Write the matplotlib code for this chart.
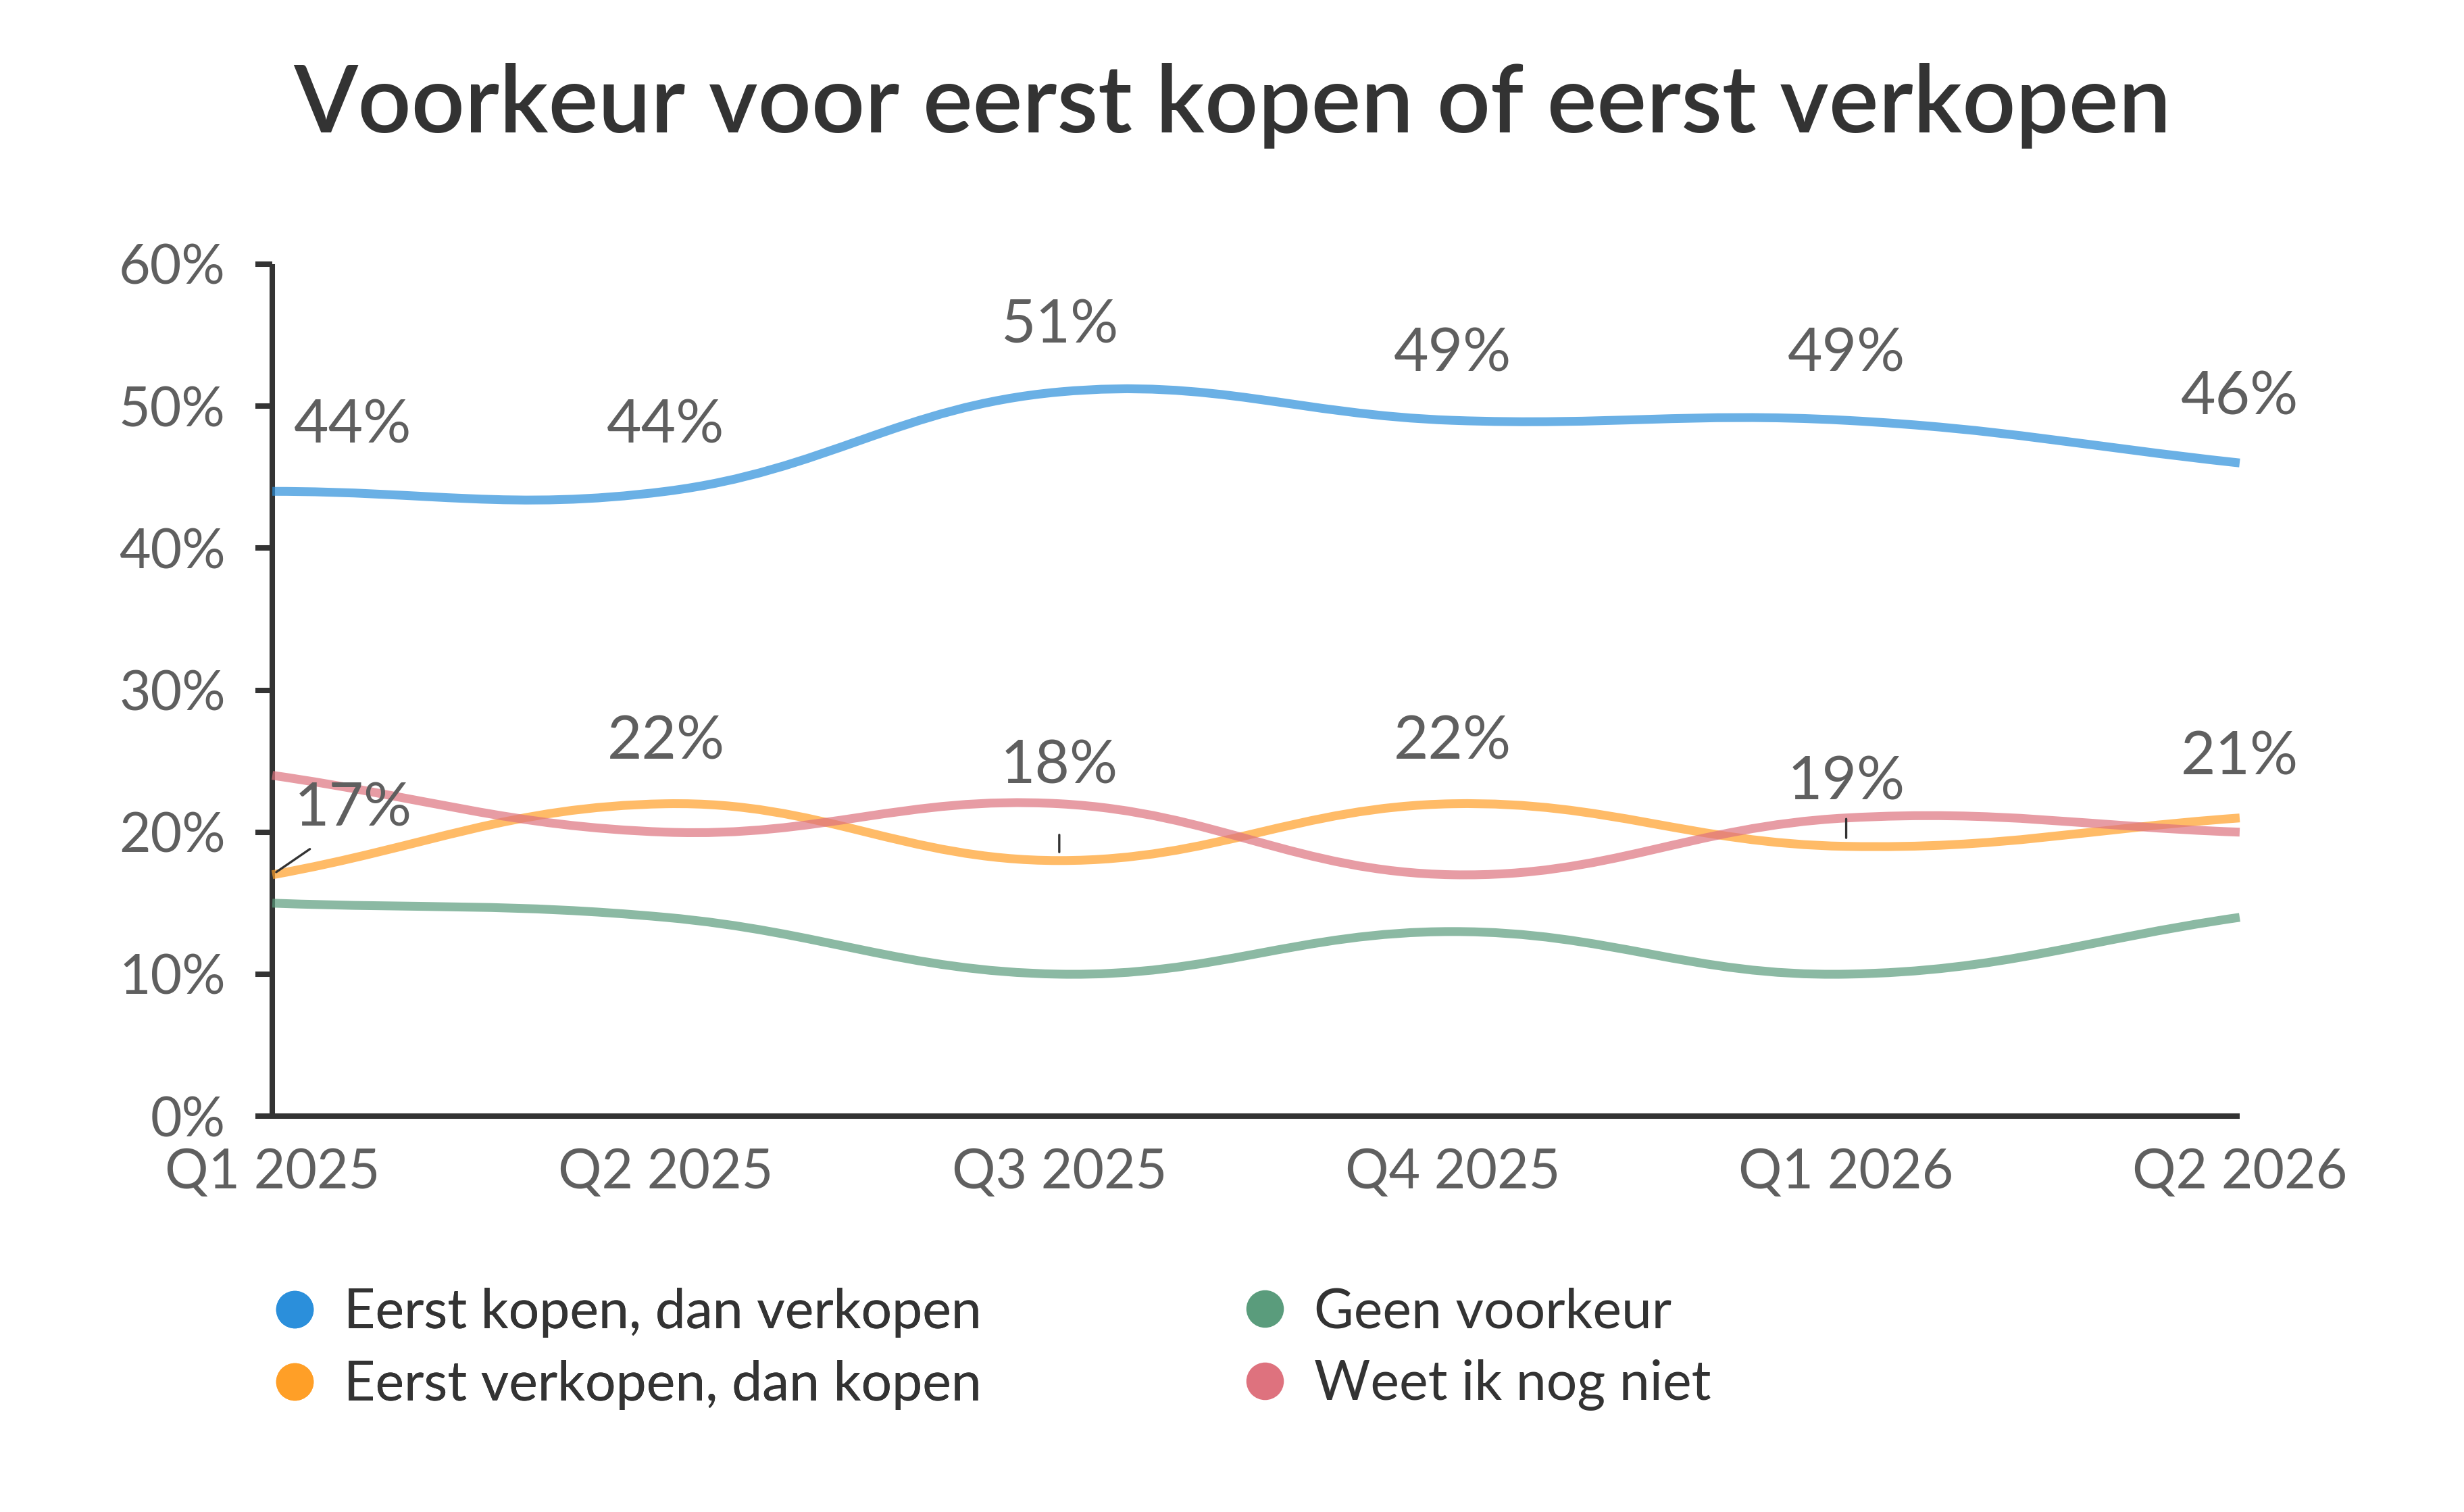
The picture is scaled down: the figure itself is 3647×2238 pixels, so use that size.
import numpy as np
import matplotlib.pyplot as plt
from matplotlib.path import Path
from matplotlib.patches import PathPatch
from matplotlib.lines import Line2D

quarters = ['Q1 2025', 'Q2 2025', 'Q3 2025', 'Q4 2025', 'Q1 2026', 'Q2 2026']
series_names = ['Eerst kopen, dan verkopen', 'Eerst verkopen, dan kopen',
                'Geen voorkeur', 'Weet ik nog niet']
kopen_eerst = [44, 44, 51, 49, 49, 46]
verkopen_eerst = [17, 22, 18, 22, 19, 21]
geen_voorkeur = [15, 14, 10, 13, 10, 14]
weet_niet = [24, 20, 22, 17, 21, 20]

marker_colors = ['#2b8fdb', '#ff9f27', '#5a9c7c', '#de727e']

plt.rcParams['font.family'] = ['Lato', 'DejaVu Sans']

fig = plt.figure(figsize=(18.24, 11.19), dpi=200)
ax = fig.add_axes([0.1105, 0.2618, 0.7982, 0.5635])
ax.set_xlim(0, len(quarters) - 1)
ax.set_ylim(0, 60)


def spline_path(ax, xs, ys, tension=0.4):
    # chart.js style bezier, computed in pixel space
    pts = ax.transData.transform(np.column_stack([xs, ys]))
    n = len(pts)
    cp_prev = np.zeros_like(pts)
    cp_next = np.zeros_like(pts)
    for i in range(n):
        p0 = pts[max(i - 1, 0)]
        p1 = pts[i]
        p2 = pts[min(i + 1, n - 1)]
        d01 = np.hypot(*(p1 - p0))
        d12 = np.hypot(*(p2 - p1))
        s01 = d01 / (d01 + d12)
        s12 = d12 / (d01 + d12)
        cp_prev[i] = p1 - tension * s01 * (p2 - p0)
        cp_next[i] = p1 + tension * s12 * (p2 - p0)
    verts = [pts[0]]
    codes = [Path.MOVETO]
    for i in range(n - 1):
        verts += [cp_next[i], cp_prev[i + 1], pts[i + 1]]
        codes += [Path.CURVE4] * 3
    inv = ax.transData.inverted()
    return Path(inv.transform(np.array(verts)), codes)


xs = np.arange(len(quarters))
all_series = [kopen_eerst, verkopen_eerst, geen_voorkeur, weet_niet]
for vals, col in zip(all_series, marker_colors):
    patch = PathPatch(spline_path(ax, xs, vals), facecolor='none', edgecolor=col,
                      lw=4.7, alpha=0.7, clip_on=False, capstyle='butt', zorder=3)
    ax.add_patch(patch)

label_style = dict(fontsize=32, color='#5f5f5f', ha='center', va='center', zorder=5)
for i, v in enumerate(kopen_eerst):
    dx = 43 if i == 0 else 0
    ax.annotate(f'{v}%', (i, v), xytext=(dx, 35), textcoords='offset points', **label_style)

orange_dy = [35, 33, 50, 33, 34, 32]
for i, v in enumerate(verkopen_eerst):
    dx = 43 if i == 0 else 0
    ax.annotate(f'{v}%', (i, v), xytext=(dx, orange_dy[i]), textcoords='offset points', **label_style)

# leader lines
leader = dict(arrowstyle='-', color='#333333', lw=1.2, shrinkA=0, shrinkB=0)
ax.annotate('', (0, verkopen_eerst[0]), xytext=(20, 13.7), textcoords='offset points',
            arrowprops=dict(leader, shrinkB=2.5))
ax.annotate('', (2, verkopen_eerst[2]), xytext=(0, 13.7), textcoords='offset points',
            arrowprops=dict(leader, shrinkB=4.5))
ax.annotate('', (4, verkopen_eerst[4]), xytext=(0, 14.6), textcoords='offset points',
            arrowprops=dict(leader, shrinkB=4.5))

for side in ['top', 'right']:
    ax.spines[side].set_visible(False)
for side in ['left', 'bottom']:
    ax.spines[side].set_color('#333333')
    ax.spines[side].set_linewidth(2.9)
    ax.spines[side].set_capstyle('butt')

ax.set_yticks(range(0, 61, 10))
ax.set_yticklabels([f'{t}%' for t in range(0, 61, 10)])
ax.set_xticks(xs)
ax.set_xticklabels(quarters)
ax.tick_params(axis='y', length=9, width=2.9, color='#333333', pad=16,
               labelsize=29, labelcolor='#5f5f5f')
ax.tick_params(axis='x', length=0, pad=17, labelsize=29, labelcolor='#5f5f5f')

fig.text(0.5, 0.930, 'Voorkeur voor eerst kopen of eerst verkopen', ha='center', va='center',
         fontsize=50, fontweight='semibold', color='#333333')

handles = [Line2D([], [], ls='none', marker='o', markersize=20, color=c, markeredgewidth=0)
           for c in marker_colors]
leg_style = dict(frameon=False, fontsize=29, labelcolor='#333333', handlelength=1.0,
                 handletextpad=0.4, labelspacing=0.41, borderpad=0, borderaxespad=0,
                 loc='center left')
leg1 = fig.legend(handles[:2], series_names[:2], bbox_to_anchor=(0.1086, 0.1079), **leg_style)
fig.add_artist(leg1)
fig.legend(handles[2:], series_names[2:], bbox_to_anchor=(0.5022, 0.1079), **leg_style)

fig.savefig('out.png', dpi=200, facecolor='white')
